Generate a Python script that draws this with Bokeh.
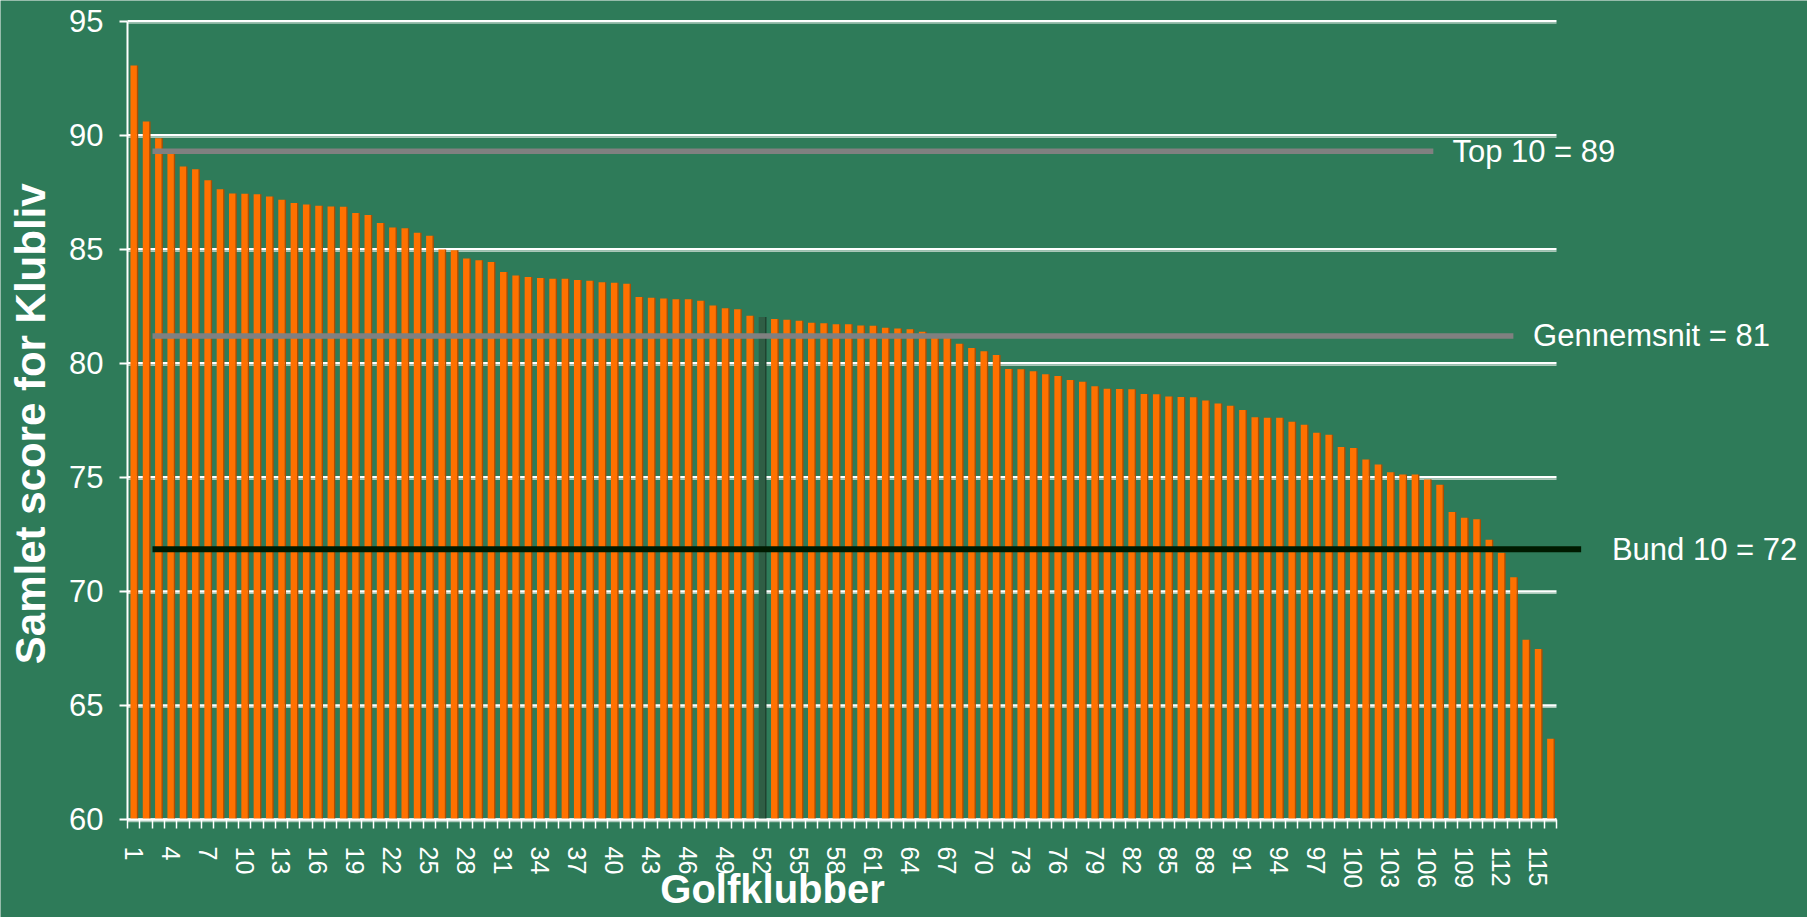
from bokeh.plotting import figure
from bokeh.models import Range1d, FixedTicker, Label, ColumnDataSource
from bokeh.core.properties import value
from bokeh.embed import file_html
from bokeh.resources import INLINE

# ---------------- data ----------------
clubs = list(range(1, 117))
scores = [
    93.06, 90.60, 89.87, 89.25, 88.63, 88.51, 88.03, 87.63, 87.45, 87.44,
    87.41, 87.32, 87.17, 87.03, 86.96, 86.91, 86.88, 86.87, 86.59, 86.50,
    86.15, 85.96, 85.92, 85.72, 85.59, 84.99, 84.96, 84.60, 84.52, 84.44,
    84.00, 83.85, 83.79, 83.74, 83.71, 83.71, 83.65, 83.62, 83.56, 83.53,
    83.49, 82.91, 82.88, 82.84, 82.81, 82.81, 82.74, 82.54, 82.41, 82.37,
    82.09, 82.03, 81.94, 81.91, 81.87, 81.78, 81.76, 81.71, 81.71, 81.66,
    81.65, 81.56, 81.53, 81.49, 81.38, 81.27, 81.11, 80.86, 80.67, 80.53,
    80.37, 79.75, 79.74, 79.65, 79.52, 79.44, 79.27, 79.19, 78.99, 78.89,
    78.87, 78.86, 78.65, 78.64, 78.55, 78.52, 78.51, 78.37, 78.24, 78.14,
    77.95, 77.64, 77.61, 77.61, 77.44, 77.31, 76.96, 76.87, 76.33, 76.29,
    75.78, 75.56, 75.23, 75.13, 75.13, 74.91, 74.68, 73.48, 73.23, 73.16,
    72.26, 71.70, 70.62, 67.88, 67.47, 63.54,
]
highlight_club = 52

ref_labels = ["Top 10 = 89", "Gennemsnit = 81", "Bund 10 = 72"]
ref_values = [89.3, 81.2, 71.85]

y_ticks = [60, 65, 70, 75, 80, 85, 90, 95]
x_label_ticks = list(range(1, 117, 3))
x_title = "Golfklubber"
y_title = "Samlet score for Klubliv"

# ---------------- style ----------------
BG = "#2E7B59"
ORANGE = "#FF7100"
ORANGE_SIDE = "#B04C00"
HILITE = "#2F5E45"
HILITE_SIDE = "#1E3F2E"
FONT = "Liberation Sans"

front_colors = [HILITE if c == highlight_club else ORANGE for c in clubs]
side_colors = [HILITE_SIDE if c == highlight_club else ORANGE_SIDE for c in clubs]

src = ColumnDataSource(dict(
    x=clubs,
    xs=[c + 0.30 for c in clubs],
    top=scores,
    fc=front_colors,
    sc=side_colors,
))

n = len(clubs)
# frame covers the whole canvas; axes are pinned inside it
p = figure(
    width=1807, height=917,
    x_range=Range1d(-9.809, 136.875), y_range=Range1d(55.703, 95.908),
    output_backend="svg", toolbar_location=None,
    min_border=0, min_border_left=0, min_border_right=0,
    min_border_top=0, min_border_bottom=0,
    background_fill_color=BG, border_fill_color=BG, outline_line_color=None,
)
p.xgrid.visible = False
p.ygrid.visible = False

# grid lines (only across the category span)
p.segment(x0=0.5, x1=n + 0.5, y0=y_ticks, y1=y_ticks, line_color="white", line_width=2.5)
p.segment(x0=0.5, x1=n + 0.5, y0=[t - 0.09 for t in y_ticks], y1=[t - 0.09 for t in y_ticks],
          line_color="#A9C7B8", line_width=1.2)

# bars: side face then front face
p.vbar(x="xs", top="top", bottom=60, width=0.14, source=src, fill_color="sc", line_color=None)
p.vbar(x="x", top="top", bottom=60, width=0.52, source=src, fill_color="fc", line_color=None)

# reference lines
line_starts = [2.53, 2.53, 2.53]
line_ends = [106.5, 113.0, 118.5]
line_colors = ["#808080", "#808080", "#001A00"]
line_widths = [5.5, 5.5, 6]
for x0, x1, v, c, w in zip(line_starts, line_ends, ref_values, line_colors, line_widths):
    p.line(x=[x0, x1], y=[v, v], line_color=c, line_width=w)

label_x = [108.05, 114.6, 121.0]
p.text(x=label_x, y=ref_values, text=ref_labels, text_color="white",
       text_font=value(FONT), text_font_size=value("31px"),
       text_align="left", text_baseline="middle")

# axes (pinned at data locations)
ya = p.yaxis[0]
ya.fixed_location = 0.5
ya.ticker = FixedTicker(ticks=y_ticks)
ya.bounds = (60, 95)
ya.axis_line_color = "white"
ya.axis_line_width = 2
ya.major_tick_line_color = "white"
ya.major_tick_line_width = 2
ya.major_tick_out = 8
ya.major_tick_in = 0
ya.minor_tick_line_color = None
ya.major_label_text_color = "white"
ya.major_label_text_font = FONT
ya.major_label_text_font_size = "31px"
ya.major_label_standoff = 16

xa = p.xaxis[0]
xa.fixed_location = 60
xa.ticker = FixedTicker(ticks=x_label_ticks, minor_ticks=[i + 0.5 for i in range(0, n + 1)])
xa.bounds = (0.5, n + 0.5)
xa.axis_line_color = "white"
xa.axis_line_width = 2
xa.major_tick_line_color = None
xa.major_tick_out = 0
xa.major_tick_in = 0
xa.minor_tick_line_color = "white"
xa.minor_tick_line_width = 1.5
xa.minor_tick_out = 9
xa.minor_tick_in = 0
xa.major_label_orientation = "vertical"
xa.major_label_text_color = "white"
xa.major_label_text_font = FONT
xa.major_label_text_font_size = "25px"
xa.major_label_standoff = 18

# axis titles
p.add_layout(Label(x=-7.37, y=77.35, text=y_title, angle=1.5708,
                   text_align="center", text_baseline="middle",
                   text_color="white", text_font=FONT, text_font_style="bold",
                   text_font_size="42px"))
p.add_layout(Label(x=52.86, y=56.95, text=x_title,
                   text_align="center", text_baseline="middle",
                   text_color="white", text_font=FONT, text_font_style="bold",
                   text_font_size="40px"))

open("out.html", "w").write(file_html(p, INLINE))
